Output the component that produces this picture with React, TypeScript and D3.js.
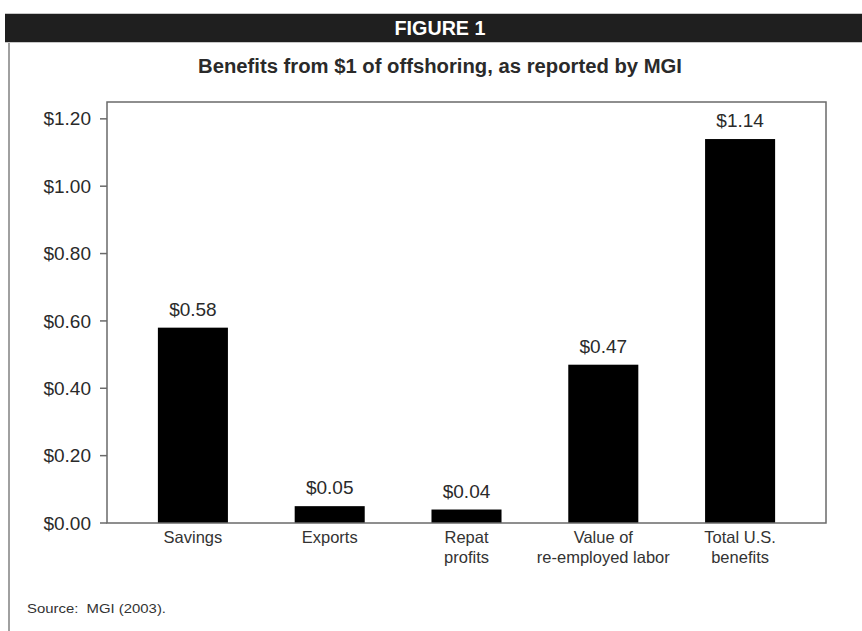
import React from "react";
import * as d3 from "d3";

const categories: string[][] = [
  ["Savings"],
  ["Exports"],
  ["Repat", "profits"],
  ["Value of", "re-employed labor"],
  ["Total U.S.", "benefits"],
];
const values: number[] = [0.58, 0.05, 0.04, 0.47, 1.14];
const yTicks: number[] = [0, 0.2, 0.4, 0.6, 0.8, 1.0, 1.2];
const headerText = "FIGURE 1";
const titleText = "Benefits from $1 of offshoring, as reported by MGI";
const sourceText = "Source:  MGI (2003).";

const W = 862;
const H = 631;
const plot = { left: 107, right: 826, top: 102, bottom: 523 };
const FONT = "'Liberation Sans', Arial, Helvetica, sans-serif";

export default function App() {
  const idx = categories.map((_, i) => String(i));
  const x = d3
    .scaleBand<string>()
    .domain(idx)
    .range([plot.left, plot.right])
    .paddingInner(0.488)
    .paddingOuter(0.372);
  const y = d3.scaleLinear().domain([0, 1.25]).range([plot.bottom, plot.top]);
  const fmt = (v: number) => "$" + d3.format(".2f")(v);
  const axisColor = "#6a6a6a";
  const textColor = "#2a2a2a";

  return (
    <svg
      width={W}
      height={H}
      style={{ position: "absolute", left: 0, top: 0, background: "#fff" }}
      fontFamily={FONT}
    >
      {/* outer frame */}
      <line x1={9} x2={9} y1={42} y2={H} stroke="#808080" strokeWidth={1.5} />
      {/* header bar */}
      <rect x={5} y={13} width={W} height={30} fill="#c8c8c8" />
      <rect x={5} y={14} width={W} height={28} fill="#1f1f1f" />
      <text
        x={440}
        y={35}
        textAnchor="middle"
        fill="#fff"
        fontWeight="bold"
        fontSize={20}
        textLength={91}
        lengthAdjust="spacingAndGlyphs"
      >
        {headerText}
      </text>
      {/* title */}
      <text
        x={440}
        y={73}
        textAnchor="middle"
        fill={textColor}
        fontWeight="bold"
        fontSize={20}
        textLength={484}
        lengthAdjust="spacingAndGlyphs"
      >
        {titleText}
      </text>

      {/* bars */}
      {values.map((v, i) => (
        <g key={i}>
          <rect
            x={x(String(i))}
            y={y(v)}
            width={x.bandwidth()}
            height={y(0) - y(v)}
            fill="#000"
          />
          <text
            x={(x(String(i)) as number) + x.bandwidth() / 2}
            y={y(v) - 12}
            textAnchor="middle"
            fontSize={19}
            fill={textColor}
          >
            {fmt(v)}
          </text>
        </g>
      ))}

      {/* plot frame */}
      <rect
        x={plot.left}
        y={plot.top}
        width={plot.right - plot.left}
        height={plot.bottom - plot.top}
        fill="none"
        stroke={axisColor}
        strokeWidth={1.5}
      />

      {/* y ticks */}
      {yTicks.map((t) => (
        <g key={t}>
          <line
            x1={plot.left - 7}
            x2={plot.left}
            y1={y(t)}
            y2={y(t)}
            stroke={axisColor}
            strokeWidth={1.5}
          />
          <text
            x={91}
            y={y(t)}
            dy="0.35em"
            textAnchor="end"
            fontSize={19}
            fill={textColor}
          >
            {fmt(t)}
          </text>
        </g>
      ))}

      {/* x labels */}
      {categories.map((lines, i) => (
        <text
          key={i}
          x={(x(String(i)) as number) + x.bandwidth() / 2}
          y={543}
          textAnchor="middle"
          fontSize={16.5}
          fill="#333"
        >
          {lines.map((l, j) => (
            <tspan
              key={j}
              x={(x(String(i)) as number) + x.bandwidth() / 2}
              dy={j === 0 ? 0 : 20}
            >
              {l}
            </tspan>
          ))}
        </text>
      ))}

      {/* source */}
      <text
        x={27}
        y={613}
        fontSize={13.5}
        fill="#333"
        style={{ whiteSpace: "pre" }}
        textLength={139}
        lengthAdjust="spacingAndGlyphs"
      >
        {sourceText}
      </text>
    </svg>
  );
}
